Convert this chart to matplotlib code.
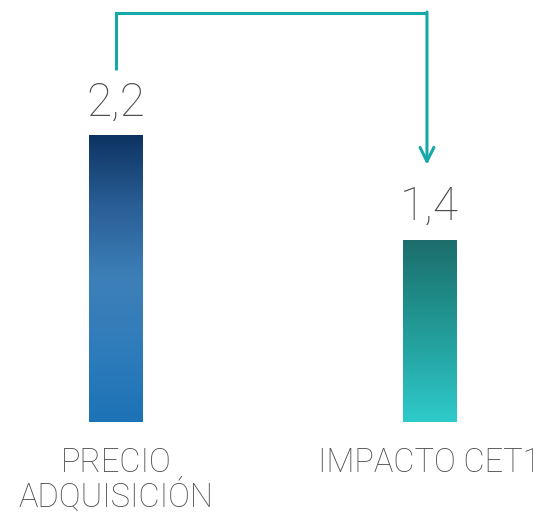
import numpy as np
import matplotlib.pyplot as plt
from matplotlib.colors import LinearSegmentedColormap

categories = ["PRECIO\nADQUISICIÓN", "IMPACTO CET1"]
values = [2.2, 1.4]
value_labels = ["2,2", "1,4"]

# gradient colours, bottom -> top
grad_colors = [
    ["#1c73b6", "#2f7cbb", "#3d80b8", "#2a5f97", "#0d3461"],
    ["#2ecbcb", "#26aaa8", "#1f8c88", "#1c6d6b"],
]
arrow_color = "#17a9a8"
text_color = "#4f4f4f"

plt.rcParams['font.family'] = ['Roboto', 'DejaVu Sans']

fig = plt.figure(figsize=(5.42, 5.15), dpi=100)
ax = fig.add_axes([0, 0, 1, 1])
ax.axis('off')

x = np.arange(len(values))
width = 0.172
bars = ax.bar(x, values, width=width, color='none', edgecolor='none')

for bar, cols in zip(bars, grad_colors):
    cmap = LinearSegmentedColormap.from_list("g", cols)
    grad = np.linspace(0, 1, 256).reshape(-1, 1)
    x0 = bar.get_x()
    im = ax.imshow(grad, cmap=cmap, origin='lower', aspect='auto',
                   extent=[x0, x0 + bar.get_width(), 0, bar.get_height()])
    im.set_clip_path(bar)

ax.set_xlim(-0.37, 1.359)
ax.set_ylim(-0.715, 3.24)

for xi, v, lab in zip(x, values, value_labels):
    ax.annotate(lab, (xi, v), xytext=(0, 8), textcoords='offset points',
                ha='center', va='bottom', fontsize=33, color=text_color,
                fontweight='light')

for xi, cat in zip(x, categories):
    ax.annotate(cat, (xi, 0), xytext=(0, -18), textcoords='offset points',
                ha='center', va='top', fontsize=23.5, color=text_color,
                fontweight='light', linespacing=0.98)

# connector arrow from first bar to second
top_y = 3.14
ax.plot([x[0], x[0], 0.992], [2.70, top_y, top_y], color=arrow_color,
        lw=2.2, solid_joinstyle='miter', solid_capstyle='butt')
ax.annotate("", xy=(0.992, 1.975), xytext=(0.992, top_y + 0.008),
            arrowprops=dict(arrowstyle="->,head_length=1.0,head_width=0.5",
                            color=arrow_color, lw=2.2, shrinkA=0, shrinkB=0))

fig.savefig("out.png", dpi=100)
